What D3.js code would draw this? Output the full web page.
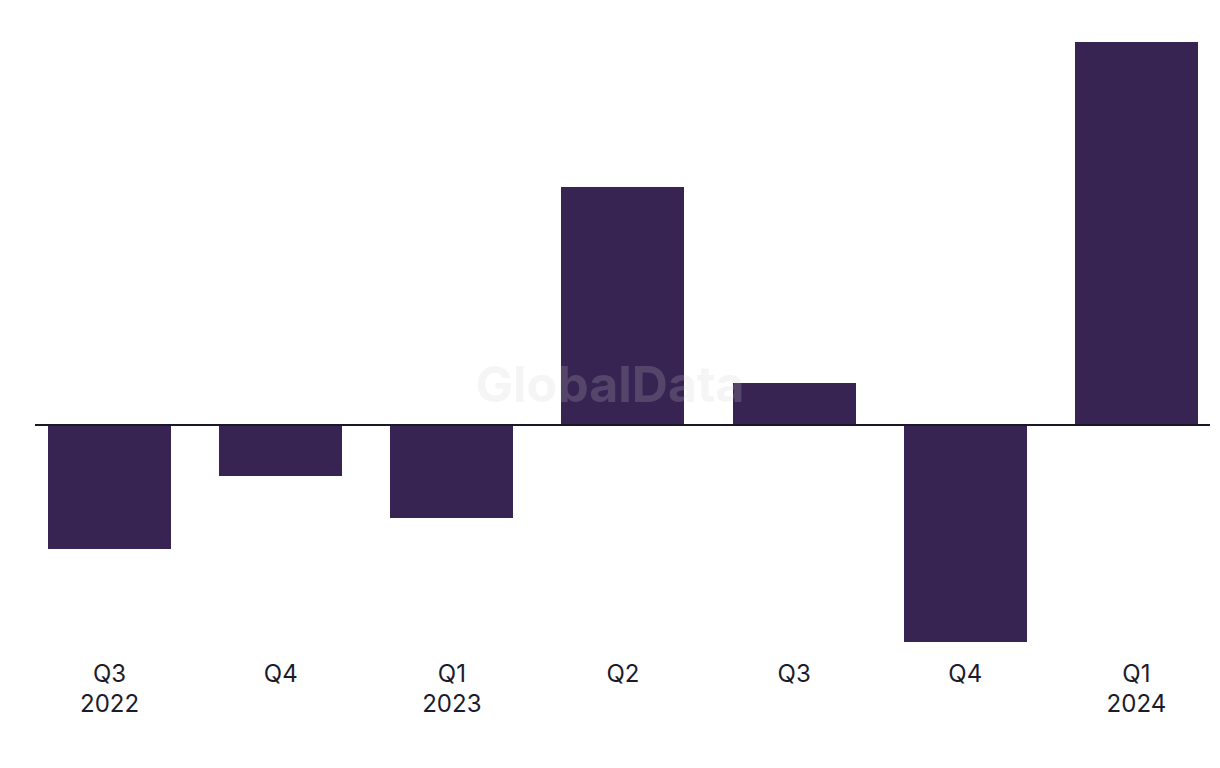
<!DOCTYPE html>
<html>
<head>
<meta charset="utf-8">
<script src="https://cdn.jsdelivr.net/npm/d3@7"></script>
<style>
  html, body { margin: 0; padding: 0; background: #ffffff; }
  svg { display: block; }
</style>
</head>
<body>
<svg id="chart" width="1220" height="768"></svg>
<script>
const quarters = ["Q3", "Q4", "Q1", "Q2", "Q3", "Q4", "Q1"];
const years = ["2022", "", "2023", "", "", "", "2024"];
const values = [-12.4, -5.1, -9.3, 23.8, 4.2, -21.7, 38.3];

const svg = d3.select("#chart");
const ids = d3.range(values.length);

const x = d3.scaleBand().domain(ids).range([48, 1198]).paddingInner(0.28).paddingOuter(0);
const y = d3.scaleLinear().domain([-21.7, 38.3]).range([642, 42]);

const barColor = "#372453";

svg.append("g").selectAll("rect").data(ids).join("rect")
  .attr("x", i => Math.round(x(i)))
  .attr("width", Math.round(x.bandwidth()))
  .attr("y", i => values[i] >= 0 ? y(values[i]) : y(0))
  .attr("height", i => Math.abs(y(values[i]) - y(0)))
  .attr("fill", barColor);

// watermark
svg.append("text")
  .attr("x", 610).attr("y", 402)
  .attr("text-anchor", "middle")
  .attr("font-family", "Inter, 'Liberation Sans', Arial, sans-serif")
  .attr("font-weight", 700)
  .attr("font-size", 50)
  .attr("fill", "#cccccc")
  .attr("fill-opacity", 0.2)
  .text("GlobalData");

// zero line
svg.append("line")
  .attr("x1", 35).attr("x2", 1210)
  .attr("y1", y(0)).attr("y2", y(0))
  .attr("stroke", "#1a1828").attr("stroke-width", 2);

// x labels
const lab = svg.append("g")
  .attr("font-family", "Inter, 'Liberation Sans', Arial, sans-serif")
  .attr("font-size", 24)
  .attr("fill", "#1c1b2b")
  .attr("text-anchor", "middle");

lab.selectAll("text.q").data(ids).join("text")
  .attr("class", "q")
  .attr("x", i => x(i) + x.bandwidth() / 2)
  .attr("y", 682)
  .text(i => quarters[i]);

lab.selectAll("text.yr").data(ids.filter(i => years[i])).join("text")
  .attr("class", "yr")
  .attr("x", i => x(i) + x.bandwidth() / 2)
  .attr("y", 712)
  .text(i => years[i]);
</script>
</body>
</html>
